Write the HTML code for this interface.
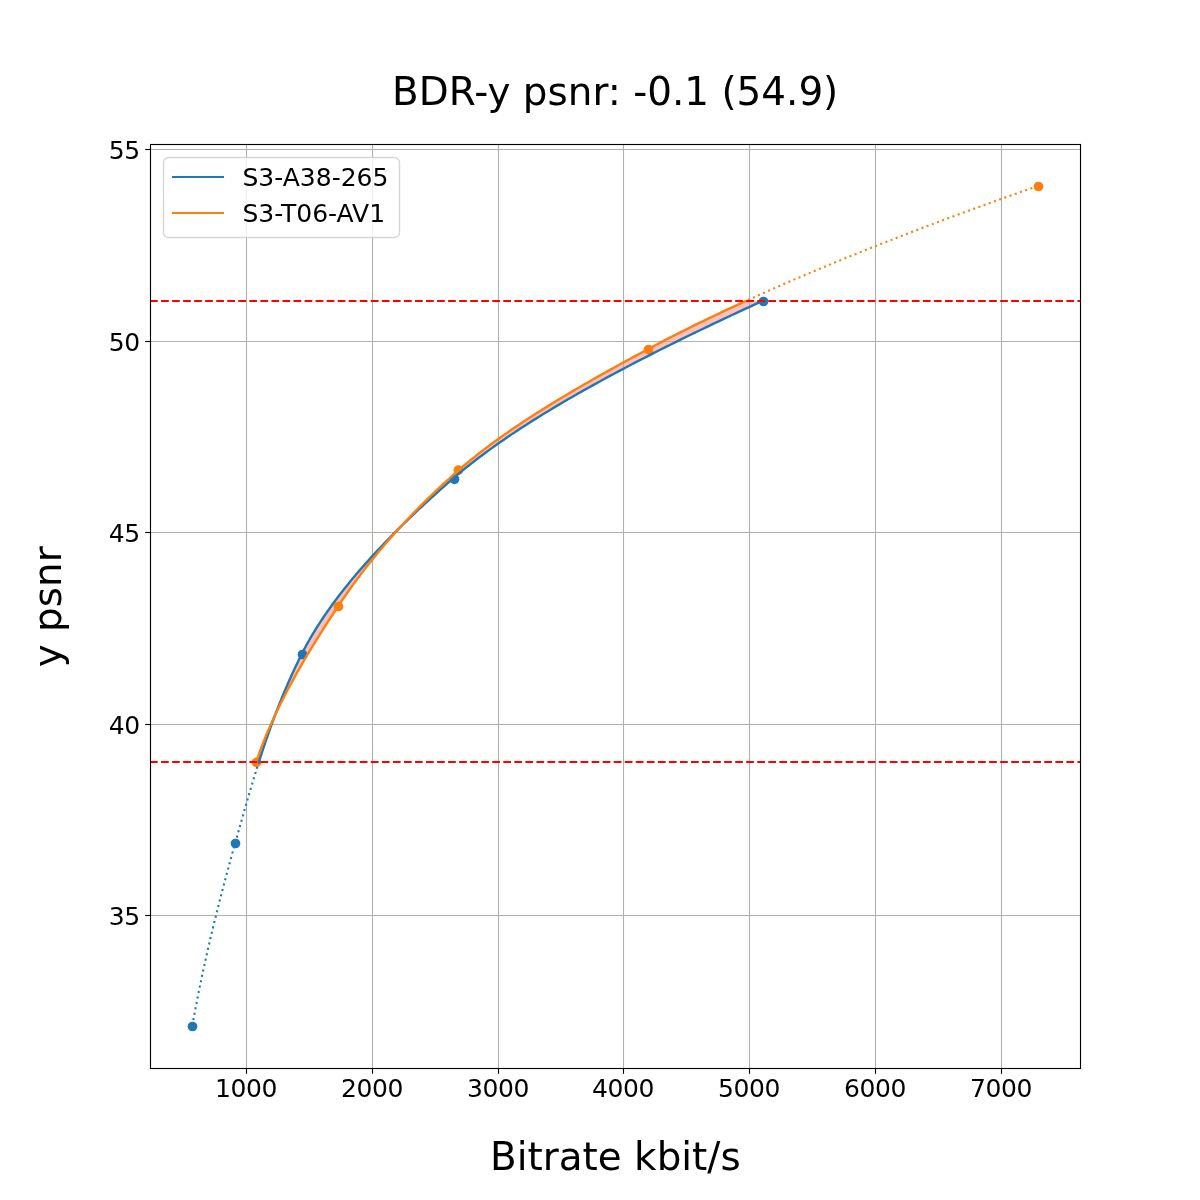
<!DOCTYPE html>
<html lang="en">
<head>
<meta charset="utf-8">
<title>BDR-y psnr</title>
<style>
html,body{margin:0;padding:0;background:#fff;}
svg{display:block;}
text{font-family:'DejaVu Sans', 'Liberation Sans', sans-serif;fill:#000;}
.tick{font-size:25px;}
.num{letter-spacing:-0.4px;}
.big{font-size:38.889px;}
</style>
</head>
<body>
<svg width="1200" height="1200" viewBox="0 0 1200 1200">
<rect width="1200" height="1200" fill="#fff"/>
<defs><clipPath id="ax"><rect x="150" y="144" width="930" height="924"/></clipPath></defs>
<g clip-path="url(#ax)">
<path d="M258.89 762.00 L259.81 759.10 L260.74 756.20 L261.69 753.30 L262.64 750.40 L263.60 747.50 L264.57 744.60 L265.55 741.70 L266.55 738.81 L267.55 735.91 L268.56 733.01 L269.59 730.11 L270.63 727.21 L271.68 724.31 L272.74 721.41 L273.82 718.51 L274.91 715.61 L276.01 712.71 L277.13 709.81 L278.26 706.91 L279.40 704.01 L280.56 701.11 L281.74 698.21 L282.93 695.31 L284.14 692.42 L285.36 689.52 L286.60 686.62 L287.85 683.72 L289.13 680.82 L290.42 677.92 L291.73 675.02 L293.06 672.12 L294.40 669.22 L295.77 666.32 L297.15 663.42 L298.55 660.52 L299.97 657.62 L301.42 654.72 L302.89 651.82 L304.40 648.92 L305.95 646.03 L307.54 643.13 L309.17 640.23 L310.84 637.33 L312.55 634.43 L314.30 631.53 L316.09 628.63 L317.91 625.73 L319.78 622.83 L321.68 619.93 L323.61 617.03 L325.59 614.13 L327.60 611.23 L329.64 608.33 L331.72 605.43 L333.84 602.53 L335.99 599.64 L338.18 596.74 L340.40 593.84 L342.66 590.94 L344.95 588.04 L347.27 585.14 L349.63 582.24 L352.02 579.34 L354.44 576.44 L356.90 573.54 L359.38 570.64 L361.90 567.74 L364.45 564.84 L367.03 561.94 L369.64 559.04 L372.28 556.14 L374.95 553.25 L377.65 550.35 L380.38 547.45 L383.14 544.55 L385.93 541.65 L388.74 538.75 L391.59 535.85 L394.46 532.95 L397.36 530.05 L400.28 527.15 L403.23 524.25 L406.21 521.35 L409.22 518.45 L412.25 515.55 L415.30 512.65 L418.38 509.75 L421.49 506.86 L424.62 503.96 L427.77 501.06 L430.95 498.16 L434.15 495.26 L437.38 492.36 L440.62 489.46 L443.89 486.56 L447.19 483.66 L450.50 480.76 L453.84 477.86 L457.22 474.96 L460.68 472.06 L464.21 469.16 L467.80 466.26 L471.46 463.36 L475.19 460.47 L478.98 457.57 L482.84 454.67 L486.76 451.77 L490.75 448.87 L494.79 445.97 L498.91 443.07 L503.08 440.17 L507.31 437.27 L511.60 434.37 L515.96 431.47 L520.37 428.57 L524.84 425.67 L529.37 422.77 L533.95 419.87 L538.59 416.97 L543.29 414.08 L548.04 411.18 L552.84 408.28 L557.70 405.38 L562.61 402.48 L567.57 399.58 L572.59 396.68 L577.65 393.78 L582.76 390.88 L587.93 387.98 L593.14 385.08 L598.40 382.18 L603.71 379.28 L609.06 376.38 L614.46 373.48 L619.90 370.58 L625.39 367.69 L630.92 364.79 L636.50 361.89 L642.12 358.99 L647.78 356.09 L653.48 353.19 L659.22 350.29 L665.00 347.39 L670.82 344.49 L676.67 341.59 L682.57 338.69 L688.50 335.79 L694.47 332.89 L700.47 329.99 L706.51 327.09 L712.58 324.19 L718.68 321.30 L724.82 318.40 L730.99 315.50 L737.19 312.60 L743.43 309.70 L749.69 306.80 L755.98 303.90 L762.30 301.00 L745.84 301.00 L739.52 303.90 L733.24 306.80 L727.03 309.70 L720.86 312.60 L714.76 315.50 L708.70 318.40 L702.70 321.30 L696.76 324.19 L690.88 327.09 L685.05 329.99 L679.27 332.89 L673.56 335.79 L667.90 338.69 L662.30 341.59 L656.75 344.49 L651.26 347.39 L645.83 350.29 L640.43 353.19 L635.06 356.09 L629.71 358.99 L624.40 361.89 L619.12 364.79 L613.87 367.69 L608.65 370.58 L603.47 373.48 L598.33 376.38 L593.22 379.28 L588.15 382.18 L583.12 385.08 L578.13 387.98 L573.18 390.88 L568.28 393.78 L563.42 396.68 L558.60 399.58 L553.84 402.48 L549.12 405.38 L544.45 408.28 L539.82 411.18 L535.26 414.08 L530.74 416.97 L526.28 419.87 L521.87 422.77 L517.52 425.67 L513.22 428.57 L508.99 431.47 L504.81 434.37 L500.70 437.27 L496.64 440.17 L492.66 443.07 L488.73 445.97 L484.87 448.87 L481.08 451.77 L477.35 454.67 L473.70 457.57 L470.11 460.47 L466.60 463.36 L463.16 466.26 L459.79 469.16 L456.49 472.06 L453.24 474.96 L450.01 477.86 L446.82 480.76 L443.66 483.66 L440.54 486.56 L437.45 489.46 L434.39 492.36 L431.37 495.26 L428.38 498.16 L425.42 501.06 L422.50 503.96 L419.60 506.86 L416.74 509.75 L413.91 512.65 L411.11 515.55 L408.34 518.45 L405.61 521.35 L402.90 524.25 L400.22 527.15 L397.58 530.05 L394.96 532.95 L392.37 535.85 L389.82 538.75 L387.29 541.65 L384.79 544.55 L382.32 547.45 L379.88 550.35 L377.47 553.25 L375.09 556.14 L372.73 559.04 L370.40 561.94 L368.10 564.84 L365.82 567.74 L363.58 570.64 L361.36 573.54 L359.16 576.44 L356.99 579.34 L354.85 582.24 L352.74 585.14 L350.65 588.04 L348.58 590.94 L346.54 593.84 L344.53 596.74 L342.54 599.64 L340.57 602.53 L338.63 605.43 L336.71 608.33 L334.79 611.23 L332.89 614.13 L331.00 617.03 L329.12 619.93 L327.24 622.83 L325.38 625.73 L323.53 628.63 L321.69 631.53 L319.87 634.43 L318.05 637.33 L316.25 640.23 L314.46 643.13 L312.68 646.03 L310.92 648.92 L309.17 651.82 L307.44 654.72 L305.72 657.62 L304.01 660.52 L302.32 663.42 L300.65 666.32 L298.99 669.22 L297.35 672.12 L295.72 675.02 L294.11 677.92 L292.52 680.82 L290.95 683.72 L289.39 686.62 L287.85 689.52 L286.33 692.42 L284.83 695.31 L283.35 698.21 L281.88 701.11 L280.44 704.01 L279.02 706.91 L277.62 709.81 L276.23 712.71 L274.87 715.61 L273.53 718.51 L272.22 721.41 L270.92 724.31 L269.65 727.21 L268.40 730.11 L267.17 733.01 L265.96 735.91 L264.78 738.81 L263.63 741.70 L262.49 744.60 L261.39 747.50 L260.30 750.40 L259.25 753.30 L258.22 756.20 L257.21 759.10 L256.23 762.00Z" fill="#ff0000" fill-opacity="0.25" stroke="none"/>
<circle cx="192.5" cy="1026.5" r="4.86" fill="#1f77b4"/>
<circle cx="235.5" cy="843.5" r="4.86" fill="#1f77b4"/>
<circle cx="302.5" cy="654.5" r="4.86" fill="#1f77b4"/>
<circle cx="454.5" cy="479.3" r="4.86" fill="#1f77b4"/>
<circle cx="763.5" cy="301.5" r="4.86" fill="#1f77b4"/>
<circle cx="256.5" cy="762.4" r="4.86" fill="#ff7f0e"/>
<circle cx="338.5" cy="606.5" r="4.86" fill="#ff7f0e"/>
<circle cx="458.4" cy="470.2" r="4.86" fill="#ff7f0e"/>
<circle cx="648.5" cy="349.5" r="4.86" fill="#ff7f0e"/>
<circle cx="1038.5" cy="186.5" r="4.86" fill="#ff7f0e"/>
<g stroke="#b0b0b0" stroke-width="1.11" fill="none">
<path d="M246.5 144V1068"/>
<path d="M372.5 144V1068"/>
<path d="M498.5 144V1068"/>
<path d="M623.5 144V1068"/>
<path d="M749.5 144V1068"/>
<path d="M875.5 144V1068"/>
<path d="M1001.5 144V1068"/>
<path d="M150 149.5H1080"/>
<path d="M150 341.5H1080"/>
<path d="M150 532.5H1080"/>
<path d="M150 724.5H1080"/>
<path d="M150 915.5H1080"/>
</g>
<g fill="none" stroke-width="2.083" stroke-linejoin="round">
<path d="M192.27 1026.00 L192.87 1022.66 L193.47 1019.32 L194.08 1015.97 L194.70 1012.63 L195.33 1009.29 L195.97 1005.95 L196.61 1002.61 L197.27 999.27 L197.93 995.92 L198.59 992.58 L199.27 989.24 L199.95 985.90 L200.64 982.56 L201.34 979.22 L202.05 975.87 L202.76 972.53 L203.48 969.19 L204.21 965.85 L204.94 962.51 L205.68 959.16 L206.43 955.82 L207.19 952.48 L207.95 949.14 L208.72 945.80 L209.49 942.46 L210.27 939.11 L211.06 935.77 L211.86 932.43 L212.66 929.09 L213.46 925.75 L214.28 922.41 L215.10 919.06 L215.92 915.72 L216.75 912.38 L217.59 909.04 L218.43 905.70 L219.28 902.35 L220.14 899.01 L221.00 895.67 L221.86 892.33 L222.73 888.99 L223.61 885.65 L224.49 882.30 L225.38 878.96 L226.27 875.62 L227.17 872.28 L228.07 868.94 L228.97 865.59 L229.89 862.25 L230.80 858.91 L231.72 855.57 L232.65 852.23 L233.58 848.89 L234.51 845.54 L235.45 842.20 L236.39 838.86 L237.33 835.52 L238.27 832.18 L239.21 828.84 L240.15 825.49 L241.09 822.15 L242.04 818.81 L242.98 815.47 L243.93 812.13 L244.89 808.78 L245.84 805.44 L246.80 802.10 L247.77 798.76 L248.74 795.42 L249.72 792.08 L250.71 788.73 L251.70 785.39 L252.70 782.05 L253.71 778.71 L254.72 775.37 L255.75 772.03 L256.78 768.68 L257.83 765.34 L258.89 762.00" stroke="#1f77b4" stroke-dasharray="2.083 3.4375" stroke-dashoffset="-0.4"/>
<path d="M745.84 301.00 L749.04 299.54 L752.25 298.09 L755.47 296.63 L758.71 295.18 L761.96 293.72 L765.23 292.27 L768.50 290.81 L771.80 289.35 L775.10 287.90 L778.42 286.44 L781.75 284.99 L785.09 283.53 L788.45 282.08 L791.82 280.62 L795.20 279.16 L798.60 277.71 L802.01 276.25 L805.44 274.80 L808.87 273.34 L812.32 271.89 L815.78 270.43 L819.26 268.97 L822.75 267.52 L826.25 266.06 L829.76 264.61 L833.29 263.15 L836.83 261.70 L840.38 260.24 L843.94 258.78 L847.52 257.33 L851.11 255.87 L854.71 254.42 L858.33 252.96 L861.96 251.51 L865.60 250.05 L869.25 248.59 L872.92 247.14 L876.60 245.68 L880.29 244.23 L883.99 242.77 L887.70 241.32 L891.43 239.86 L895.17 238.41 L898.92 236.95 L902.69 235.49 L906.47 234.04 L910.25 232.58 L914.05 231.13 L917.87 229.67 L921.69 228.22 L925.53 226.76 L929.38 225.30 L933.24 223.85 L937.11 222.39 L941.00 220.94 L944.89 219.48 L948.80 218.03 L952.72 216.57 L956.66 215.11 L960.60 213.66 L964.56 212.20 L968.52 210.75 L972.50 209.29 L976.49 207.84 L980.50 206.38 L984.51 204.92 L988.54 203.47 L992.57 202.01 L996.62 200.56 L1000.68 199.10 L1004.75 197.65 L1008.83 196.19 L1012.93 194.73 L1017.03 193.28 L1021.15 191.82 L1025.28 190.37 L1029.42 188.91 L1033.57 187.46 L1037.73 186.00" stroke="#ff7f0e" stroke-dasharray="2.083 3.4375" stroke-dashoffset="-2.4"/>
<path d="M258.89 762.00 L259.81 759.10 L260.74 756.20 L261.69 753.30 L262.64 750.40 L263.60 747.50 L264.57 744.60 L265.55 741.70 L266.55 738.81 L267.55 735.91 L268.56 733.01 L269.59 730.11 L270.63 727.21 L271.68 724.31 L272.74 721.41 L273.82 718.51 L274.91 715.61 L276.01 712.71 L277.13 709.81 L278.26 706.91 L279.40 704.01 L280.56 701.11 L281.74 698.21 L282.93 695.31 L284.14 692.42 L285.36 689.52 L286.60 686.62 L287.85 683.72 L289.13 680.82 L290.42 677.92 L291.73 675.02 L293.06 672.12 L294.40 669.22 L295.77 666.32 L297.15 663.42 L298.55 660.52 L299.97 657.62 L301.42 654.72 L302.89 651.82 L304.40 648.92 L305.95 646.03 L307.54 643.13 L309.17 640.23 L310.84 637.33 L312.55 634.43 L314.30 631.53 L316.09 628.63 L317.91 625.73 L319.78 622.83 L321.68 619.93 L323.61 617.03 L325.59 614.13 L327.60 611.23 L329.64 608.33 L331.72 605.43 L333.84 602.53 L335.99 599.64 L338.18 596.74 L340.40 593.84 L342.66 590.94 L344.95 588.04 L347.27 585.14 L349.63 582.24 L352.02 579.34 L354.44 576.44 L356.90 573.54 L359.38 570.64 L361.90 567.74 L364.45 564.84 L367.03 561.94 L369.64 559.04 L372.28 556.14 L374.95 553.25 L377.65 550.35 L380.38 547.45 L383.14 544.55 L385.93 541.65 L388.74 538.75 L391.59 535.85 L394.46 532.95 L397.36 530.05 L400.28 527.15 L403.23 524.25 L406.21 521.35 L409.22 518.45 L412.25 515.55 L415.30 512.65 L418.38 509.75 L421.49 506.86 L424.62 503.96 L427.77 501.06 L430.95 498.16 L434.15 495.26 L437.38 492.36 L440.62 489.46 L443.89 486.56 L447.19 483.66 L450.50 480.76 L453.84 477.86 L457.22 474.96 L460.68 472.06 L464.21 469.16 L467.80 466.26 L471.46 463.36 L475.19 460.47 L478.98 457.57 L482.84 454.67 L486.76 451.77 L490.75 448.87 L494.79 445.97 L498.91 443.07 L503.08 440.17 L507.31 437.27 L511.60 434.37 L515.96 431.47 L520.37 428.57 L524.84 425.67 L529.37 422.77 L533.95 419.87 L538.59 416.97 L543.29 414.08 L548.04 411.18 L552.84 408.28 L557.70 405.38 L562.61 402.48 L567.57 399.58 L572.59 396.68 L577.65 393.78 L582.76 390.88 L587.93 387.98 L593.14 385.08 L598.40 382.18 L603.71 379.28 L609.06 376.38 L614.46 373.48 L619.90 370.58 L625.39 367.69 L630.92 364.79 L636.50 361.89 L642.12 358.99 L647.78 356.09 L653.48 353.19 L659.22 350.29 L665.00 347.39 L670.82 344.49 L676.67 341.59 L682.57 338.69 L688.50 335.79 L694.47 332.89 L700.47 329.99 L706.51 327.09 L712.58 324.19 L718.68 321.30 L724.82 318.40 L730.99 315.50 L737.19 312.60 L743.43 309.70 L749.69 306.80 L755.98 303.90 L762.30 301.00" stroke="#1f77b4" stroke-width="2.4" stroke-linecap="square"/>
<path d="M256.23 762.00 L257.21 759.10 L258.22 756.20 L259.25 753.30 L260.30 750.40 L261.39 747.50 L262.49 744.60 L263.63 741.70 L264.78 738.81 L265.96 735.91 L267.17 733.01 L268.40 730.11 L269.65 727.21 L270.92 724.31 L272.22 721.41 L273.53 718.51 L274.87 715.61 L276.23 712.71 L277.62 709.81 L279.02 706.91 L280.44 704.01 L281.88 701.11 L283.35 698.21 L284.83 695.31 L286.33 692.42 L287.85 689.52 L289.39 686.62 L290.95 683.72 L292.52 680.82 L294.11 677.92 L295.72 675.02 L297.35 672.12 L298.99 669.22 L300.65 666.32 L302.32 663.42 L304.01 660.52 L305.72 657.62 L307.44 654.72 L309.17 651.82 L310.92 648.92 L312.68 646.03 L314.46 643.13 L316.25 640.23 L318.05 637.33 L319.87 634.43 L321.69 631.53 L323.53 628.63 L325.38 625.73 L327.24 622.83 L329.12 619.93 L331.00 617.03 L332.89 614.13 L334.79 611.23 L336.71 608.33 L338.63 605.43 L340.57 602.53 L342.54 599.64 L344.53 596.74 L346.54 593.84 L348.58 590.94 L350.65 588.04 L352.74 585.14 L354.85 582.24 L356.99 579.34 L359.16 576.44 L361.36 573.54 L363.58 570.64 L365.82 567.74 L368.10 564.84 L370.40 561.94 L372.73 559.04 L375.09 556.14 L377.47 553.25 L379.88 550.35 L382.32 547.45 L384.79 544.55 L387.29 541.65 L389.82 538.75 L392.37 535.85 L394.96 532.95 L397.58 530.05 L400.22 527.15 L402.90 524.25 L405.61 521.35 L408.34 518.45 L411.11 515.55 L413.91 512.65 L416.74 509.75 L419.60 506.86 L422.50 503.96 L425.42 501.06 L428.38 498.16 L431.37 495.26 L434.39 492.36 L437.45 489.46 L440.54 486.56 L443.66 483.66 L446.82 480.76 L450.01 477.86 L453.24 474.96 L456.49 472.06 L459.79 469.16 L463.16 466.26 L466.60 463.36 L470.11 460.47 L473.70 457.57 L477.35 454.67 L481.08 451.77 L484.87 448.87 L488.73 445.97 L492.66 443.07 L496.64 440.17 L500.70 437.27 L504.81 434.37 L508.99 431.47 L513.22 428.57 L517.52 425.67 L521.87 422.77 L526.28 419.87 L530.74 416.97 L535.26 414.08 L539.82 411.18 L544.45 408.28 L549.12 405.38 L553.84 402.48 L558.60 399.58 L563.42 396.68 L568.28 393.78 L573.18 390.88 L578.13 387.98 L583.12 385.08 L588.15 382.18 L593.22 379.28 L598.33 376.38 L603.47 373.48 L608.65 370.58 L613.87 367.69 L619.12 364.79 L624.40 361.89 L629.71 358.99 L635.06 356.09 L640.43 353.19 L645.83 350.29 L651.26 347.39 L656.75 344.49 L662.30 341.59 L667.90 338.69 L673.56 335.79 L679.27 332.89 L685.05 329.99 L690.88 327.09 L696.76 324.19 L702.70 321.30 L708.70 318.40 L714.76 315.50 L720.86 312.60 L727.03 309.70 L733.24 306.80 L739.52 303.90 L745.84 301.00" stroke="#ff7f0e" stroke-width="2.4" stroke-linecap="square"/>
<path d="M150 762.0H1080" stroke="#ff0000" stroke-dasharray="7.708 3.333"/>
<path d="M150 301.0H1080" stroke="#ff0000" stroke-dasharray="7.708 3.333"/>
</g>
</g>
<g stroke="#000" stroke-width="1.11" fill="none">
<path d="M246.5 1068.5V1073.8"/>
<path d="M372.5 1068.5V1073.8"/>
<path d="M498.5 1068.5V1073.8"/>
<path d="M623.5 1068.5V1073.8"/>
<path d="M749.5 1068.5V1073.8"/>
<path d="M875.5 1068.5V1073.8"/>
<path d="M1001.5 1068.5V1073.8"/>
<path d="M150.5 149.5H145.2"/>
<path d="M150.5 341.5H145.2"/>
<path d="M150.5 532.5H145.2"/>
<path d="M150.5 724.5H145.2"/>
<path d="M150.5 915.5H145.2"/>
<rect x="150.5" y="144.5" width="930" height="924"/>
</g>
<text class="tick num" x="246" y="1096.7" text-anchor="middle">1000</text>
<text class="tick num" x="372" y="1096.7" text-anchor="middle">2000</text>
<text class="tick num" x="498" y="1096.7" text-anchor="middle">3000</text>
<text class="tick num" x="623" y="1096.7" text-anchor="middle">4000</text>
<text class="tick num" x="749" y="1096.7" text-anchor="middle">5000</text>
<text class="tick num" x="875" y="1096.7" text-anchor="middle">6000</text>
<text class="tick num" x="1001" y="1096.7" text-anchor="middle">7000</text>
<text class="tick num" x="139.8" y="159.0" text-anchor="end">55</text>
<text class="tick num" x="139.8" y="351.0" text-anchor="end">50</text>
<text class="tick num" x="139.8" y="542.0" text-anchor="end">45</text>
<text class="tick num" x="139.8" y="734.0" text-anchor="end">40</text>
<text class="tick num" x="139.8" y="925.0" text-anchor="end">35</text>
<text class="big" x="615.4" y="1170.4" text-anchor="middle">Bitrate kbit/s</text>
<text class="big" x="61.3" y="606.8" text-anchor="middle" transform="rotate(-90 61.3 606.8)">y psnr</text>
<text class="big" x="615.2" y="105.1" text-anchor="middle">BDR-y psnr: -0.1 (54.9)</text>
<rect x="163.5" y="157.5" width="236" height="80" rx="5" ry="5" fill="#fff" fill-opacity="0.8" stroke="#ccc" stroke-opacity="0.8" stroke-width="1.389"/>
<path d="M172 177H224" stroke="#1f77b4" stroke-width="2.083"/>
<path d="M172 213H224" stroke="#ff7f0e" stroke-width="2.083"/>
<text class="tick" x="242.5" y="185.5">S3-A38-265</text>
<text class="tick" x="242.5" y="222.2">S3-T06-AV1</text>
</svg>
</body>
</html>
